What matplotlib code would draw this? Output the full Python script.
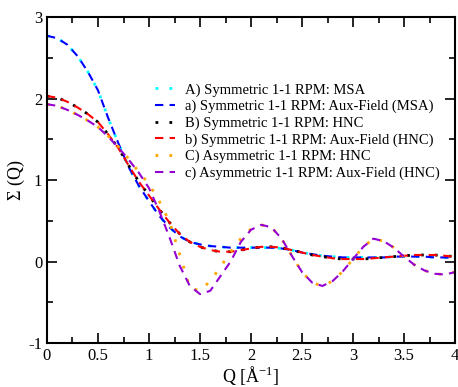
import numpy as np
import matplotlib.pyplot as plt
from matplotlib.ticker import MultipleLocator

plt.rcParams['font.family'] = ['Liberation Serif', 'DejaVu Serif']
plt.rcParams['mathtext.fontset'] = 'custom'
plt.rcParams['mathtext.rm'] = 'Liberation Serif'
plt.rcParams['axes.unicode_minus'] = False

q = [0.0, 0.1, 0.2, 0.3, 0.4, 0.5, 0.6, 0.7, 0.8, 0.9,
     1.0, 1.1, 1.2, 1.3, 1.4, 1.5, 1.6, 1.7, 1.8, 1.9,
     2.0, 2.1, 2.2, 2.3, 2.4, 2.5, 2.6, 2.7, 2.8, 2.9,
     3.0, 3.1, 3.2, 3.3, 3.4, 3.5, 3.6, 3.7, 3.8, 3.9, 4.0]

# symmetric, MSA (A) and aux-field (a)
sym_msa = [2.77, 2.74, 2.66, 2.52, 2.33, 2.10, 1.76, 1.45, 1.16, 0.93,
           0.74, 0.56, 0.42, 0.31, 0.24, 0.21, 0.19, 0.18, 0.17, 0.17,
           0.17, 0.17, 0.17, 0.16, 0.14, 0.11, 0.09, 0.07, 0.06, 0.05,
           0.05, 0.05, 0.05, 0.05, 0.06, 0.06, 0.06, 0.06, 0.05, 0.05, 0.04]

# symmetric, HNC (B) and aux-field (b)
sym_hnc = [2.03, 2.01, 1.96, 1.89, 1.81, 1.71, 1.56, 1.39, 1.18, 0.98,
           0.81, 0.64, 0.48, 0.34, 0.24, 0.18, 0.14, 0.12, 0.12, 0.14,
           0.16, 0.18, 0.18, 0.17, 0.14, 0.11, 0.08, 0.06, 0.04, 0.03,
           0.03, 0.03, 0.04, 0.05, 0.06, 0.07, 0.08, 0.08, 0.08, 0.07, 0.06]

# asymmetric, HNC (C)
asym_hnc = [1.93, 1.91, 1.86, 1.80, 1.73, 1.65, 1.54, 1.41, 1.26, 1.10,
            0.95, 0.74, 0.49, 0.09, -0.32, -0.36, -0.24, -0.07, 0.12, 0.28,
            0.40, 0.45, 0.42, 0.28, 0.07, -0.13, -0.26, -0.30, -0.24, -0.12,
            0.03, 0.18, 0.28, 0.25, 0.17, 0.06, -0.04, -0.11, -0.15, -0.16, -0.13]

# asymmetric, aux-field (c)
asym_aux = [1.93, 1.91, 1.86, 1.80, 1.73, 1.65, 1.53, 1.40, 1.25, 1.09,
            0.90, 0.62, 0.30, -0.05, -0.30, -0.40, -0.36, -0.18, 0.00, 0.24,
            0.39, 0.45, 0.42, 0.28, 0.07, -0.13, -0.26, -0.30, -0.24, -0.12,
            0.03, 0.18, 0.28, 0.25, 0.17, 0.06, -0.04, -0.11, -0.15, -0.16, -0.13]

labels = ['A) Symmetric 1-1 RPM: MSA',
          'a) Symmetric 1-1 RPM: Aux-Field (MSA)',
          'B) Symmetric 1-1 RPM: HNC',
          'b) Symmetric 1-1 RPM: Aux-Field (HNC)',
          'C) Asymmetric 1-1 RPM: HNC',
          'c) Asymmetric 1-1 RPM: Aux-Field (HNC)']

fig = plt.figure(figsize=(4.58, 3.87), dpi=100)
ax = fig.add_axes([0.1026, 0.1137, 0.891, 0.8423])

dot = (0, (1, 4))
dash = (0, (4, 3))
ax.plot(q, sym_msa, color='#00ffff', lw=2, ls=dot, label=labels[0])
ax.plot(q, sym_msa, color='#0000ff', lw=1.5, ls=dash, label=labels[1])
ax.plot(q, sym_hnc, color='black', lw=2, ls=dot, label=labels[2])
ax.plot(q, sym_hnc, color='#ff0000', lw=1.5, ls=dash, label=labels[3])
ax.plot(q, asym_hnc, color='#ffa500', lw=2, ls=dot, label=labels[4])
ax.plot(q, asym_aux, color='#9400d3', lw=1.5, ls=dash, label=labels[5])

ax.set_xlim(0, 4)
ax.set_ylim(-1, 3)
ax.xaxis.set_major_locator(MultipleLocator(0.5))
ax.xaxis.set_minor_locator(MultipleLocator(0.25))
ax.yaxis.set_major_locator(MultipleLocator(1))
ax.yaxis.set_minor_locator(MultipleLocator(0.5))
ax.xaxis.set_major_formatter(plt.FuncFormatter(lambda v, p: '%g' % v))
ax.tick_params(which='both', direction='in', top=True, right=True, labelsize=12, width=1.2)
ax.tick_params(which='major', length=7)
ax.tick_params(which='minor', length=4)
for s in ax.spines.values():
    s.set_linewidth(1.5)

ax.set_xlabel('Q [Å$^{\\mathregular{-1}}$]', fontsize=13, labelpad=1)
ax.set_ylabel('Σ (Q)', fontsize=13, labelpad=2)

ax.legend(loc='upper left', bbox_to_anchor=(0.25, 0.815), frameon=False, fontsize=10.5,
          handlelength=1.4, handletextpad=0.7, labelspacing=0.22, borderaxespad=0)

fig.savefig('out.png', dpi=100)
